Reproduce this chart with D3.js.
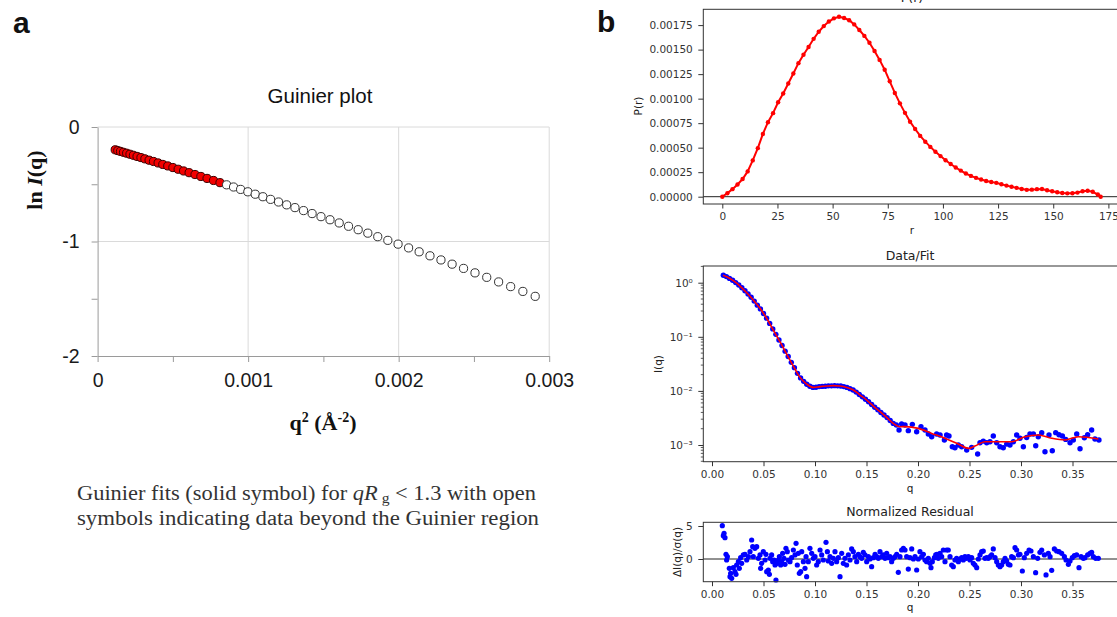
<!DOCTYPE html>
<html>
<head>
<meta charset="utf-8">
<script src="https://cdn.jsdelivr.net/npm/d3@7"></script>
<style>
  body { margin: 0; background: #fff; }
  svg { display: block; }
</style>
</head>
<body>
<svg id="chart" width="1117" height="617"></svg>
<script>
// ---- panel a: Guinier plot (q^2 vs ln I) ----
const guinierQ2 = [0.000117, 0.000134, 0.000152, 0.000172, 0.000193, 0.000215, 0.000238, 0.000262, 0.000288, 0.000314,
  0.000342, 0.000371, 0.000402, 0.000433, 0.000466, 0.000500, 0.000535, 0.000571, 0.000608, 0.000647,
  0.000686, 0.000727, 0.000770, 0.000813, 0.000857, 0.000903, 0.000950, 0.000998, 0.001047, 0.001098,
  0.001149, 0.001202, 0.001256, 0.001311, 0.001368, 0.001425, 0.001484, 0.001544, 0.001605, 0.001667,
  0.001731, 0.001795, 0.001861, 0.001928, 0.001996, 0.002066, 0.002136, 0.002208, 0.002281, 0.002355,
  0.002431, 0.002507, 0.002585, 0.002664, 0.002744, 0.002825, 0.002907];
const guinierLnI = [-0.199, -0.206, -0.213, -0.221, -0.229, -0.238, -0.247, -0.257, -0.267, -0.278,
  -0.290, -0.301, -0.314, -0.327, -0.340, -0.354, -0.369, -0.384, -0.399, -0.415,
  -0.432, -0.449, -0.467, -0.486, -0.505, -0.524, -0.545, -0.566, -0.587, -0.609,
  -0.632, -0.655, -0.680, -0.704, -0.730, -0.756, -0.783, -0.810, -0.838, -0.867,
  -0.897, -0.927, -0.958, -0.990, -1.023, -1.056, -1.090, -1.125, -1.161, -1.198,
  -1.235, -1.274, -1.313, -1.353, -1.394, -1.436, -1.479];
const guinierFitCount = 24; // first points = solid symbols (qRg < 1.3)
const guinierXTicks = [0, 0.0005, 0.001, 0.0015, 0.002, 0.0025, 0.003];
const guinierXLabels = { 0: '0', 0.001: '0.001', 0.002: '0.002', 0.003: '0.003' };
const guinierYTicks = [0, -0.5, -1, -1.5, -2];
const guinierYLabels = { 0: '0', '-1': '-1', '-2': '-2' };

// ---- panel b: P(r) ----
const prR = [0, 2.3, 4.6, 6.9, 9.2, 11.5, 13.8, 16.1, 18.4, 20.7, 23.0, 25.3, 27.6, 29.9, 32.2, 34.5, 36.8, 39.1, 41.4, 43.7,
  46.0, 48.3, 50.6, 52.9, 55.2, 57.5, 59.8, 62.1, 64.4, 66.7, 69.0, 71.3, 73.6, 75.9, 78.2, 80.5, 82.8, 85.1, 87.4, 89.7,
  92.0, 94.3, 96.6, 98.9, 101.2, 103.5, 105.8, 108.1, 110.4, 112.7, 115.0, 117.3, 119.6, 121.9, 124.2, 126.5, 128.8, 131.1,
  133.4, 135.7, 138.0, 140.3, 142.6, 144.9, 147.2, 149.5, 151.8, 154.1, 156.4, 158.7, 161.0, 163.3, 165.6, 167.9, 170.2, 171.5];
const prP = [0, 0.000035, 0.000077, 0.000125, 0.000180, 0.000258, 0.000370, 0.000495, 0.000640, 0.000760,
  0.000852, 0.000963, 0.001053, 0.001155, 0.001257, 0.001362, 0.001447, 0.001527, 0.001610, 0.001682,
  0.001740, 0.001786, 0.001819, 0.001835, 0.001822, 0.001800, 0.001757, 0.001700, 0.001640, 0.001570,
  0.001486, 0.001395, 0.001295, 0.001177, 0.001058, 0.000952, 0.000855, 0.000765, 0.000690, 0.000620,
  0.000561, 0.000508, 0.000459, 0.000414, 0.000372, 0.000333, 0.000298, 0.000266, 0.000236, 0.000212,
  0.000192, 0.000175, 0.000160, 0.000150, 0.000141, 0.000127, 0.000113, 0.000101, 0.000090, 0.000078,
  0.000070, 0.000072, 0.000077, 0.000078, 0.000066, 0.000055, 0.000045, 0.000038, 0.000034, 0.000035,
  0.000042, 0.000056, 0.000060, 0.000050, 0.000022, 0];
const prXTicks = [0, 25, 50, 75, 100, 125, 150, 175];
const prYTicks = [0, 0.00025, 0.0005, 0.00075, 0.001, 0.00125, 0.0015, 0.00175];

// ---- panel b: Data/Fit ----
const dataQ = [0.011, 0.014, 0.017, 0.020, 0.023, 0.026, 0.029, 0.032, 0.035, 0.038, 0.041, 0.044, 0.047, 0.050, 0.053,
  0.056, 0.059, 0.062, 0.065, 0.068, 0.071, 0.074, 0.077, 0.080, 0.083, 0.086, 0.089, 0.092, 0.095, 0.098,
  0.101, 0.104, 0.107, 0.110, 0.113, 0.116, 0.119, 0.122, 0.125, 0.128, 0.131, 0.134, 0.137, 0.140, 0.143,
  0.146, 0.149, 0.152, 0.155, 0.158, 0.161, 0.164, 0.167, 0.170, 0.173, 0.176, 0.179,
  0.1816, 0.1841, 0.1874, 0.1906, 0.1945, 0.1987, 0.2029, 0.2068, 0.2100, 0.2133, 0.2181, 0.2214, 0.2256, 0.2278,
  0.2301, 0.2333, 0.2359, 0.2392, 0.2424, 0.2473, 0.2521, 0.2579, 0.2602, 0.2634, 0.2667, 0.2699, 0.2731, 0.2764,
  0.2796, 0.2828, 0.2861, 0.2893, 0.2926, 0.2958, 0.2990, 0.3023, 0.3055, 0.3087, 0.3120, 0.3143, 0.3168, 0.3201,
  0.3233, 0.3272, 0.3304, 0.3337, 0.3369, 0.3402, 0.3434, 0.3476, 0.3508, 0.3541, 0.3573, 0.3615, 0.3647, 0.3686,
  0.3718, 0.3757];
const dataI = [1.374, 1.297, 1.202, 1.109, 1.005, 0.906, 0.807, 0.708, 0.617, 0.537, 0.457, 0.385, 0.328, 0.269, 0.221,
  0.177, 0.140, 0.111, 0.0875, 0.0692, 0.0543, 0.0432, 0.0337, 0.0269, 0.0211, 0.0174, 0.0150, 0.0133, 0.0122, 0.0116,
  0.0117, 0.0120, 0.0121, 0.0122, 0.0124, 0.0124, 0.0125, 0.0124, 0.0123, 0.0120, 0.0116, 0.0110, 0.0104, 0.00951, 0.00859,
  0.00776, 0.00700, 0.00631, 0.00560, 0.00499, 0.00447, 0.00400, 0.00358, 0.00321, 0.00283, 0.00251, 0.00234,
  0.00189, 0.00244, 0.00234, 0.00184, 0.00241, 0.00176, 0.00218, 0.00189, 0.00160, 0.00142, 0.00160, 0.00153, 0.00124, 0.00153,
  0.00147, 0.000931, 0.000891, 0.000998, 0.000931, 0.000807, 0.000904, 0.000681, 0.00110, 0.00118, 0.00110, 0.00115, 0.00147, 0.00110,
  0.000931, 0.000891, 0.00104, 0.000998, 0.00115, 0.00153, 0.00133, 0.000931, 0.00138, 0.00160, 0.00160, 0.000970, 0.00142, 0.00169,
  0.000752, 0.00153, 0.000785, 0.00169, 0.00155, 0.00147, 0.00127, 0.00110, 0.00124, 0.00160, 0.000855, 0.00136, 0.00155, 0.00189,
  0.00129, 0.00124];
const fitQ = [0.0107, 0.0143, 0.0207, 0.0272, 0.0337, 0.0401, 0.0466, 0.0531, 0.0595, 0.0660, 0.0725, 0.0790, 0.0854,
  0.0919, 0.0983, 0.1049, 0.1113, 0.1178, 0.1243, 0.1307, 0.1372, 0.1437, 0.1502, 0.1566, 0.1631, 0.1696, 0.1760,
  0.1825, 0.1880, 0.2003, 0.2133, 0.2262, 0.2391, 0.2489, 0.2553, 0.2650, 0.2780, 0.2910, 0.3039, 0.3168, 0.3298,
  0.3427, 0.3557, 0.3751];
const fitI = [1.38, 1.29, 1.09, 0.867, 0.653, 0.479, 0.336, 0.219, 0.133, 0.0811, 0.0480, 0.0288, 0.0178,
  0.0134, 0.0116, 0.0120, 0.0123, 0.0125, 0.0123, 0.0116, 0.0104, 0.00839, 0.00678, 0.00525, 0.00413, 0.00324, 0.00251,
  0.00218, 0.00219, 0.00203, 0.00164, 0.00133, 0.00104, 0.000867, 0.000957, 0.00115, 0.00115, 0.00115, 0.00142, 0.00153, 0.00133,
  0.00124, 0.00142, 0.00129];
const qTicks = [0, 0.05, 0.10, 0.15, 0.20, 0.25, 0.30, 0.35];
const logTicks = [1e-3, 1e-2, 1e-1, 1];
const logLabels = ['10\u207B\u00B3', '10\u207B\u00B2', '10\u207B\u00B9', '10\u2070'];

// ---- panel b: normalized residual ----
const resQ = [0.0100, 0.0117, 0.0110, 0.0126, 0.0136, 0.0149, 0.0142, 0.0168, 0.0181, 0.0191, 0.0175, 0.0207, 0.0223, 0.0239,
  0.0233, 0.0256, 0.0265, 0.0278, 0.0288, 0.0304, 0.0320, 0.0337, 0.0353, 0.0369, 0.0385, 0.0395, 0.0401, 0.0417, 0.0434,
  0.0450, 0.0466, 0.0472, 0.0482, 0.0498, 0.0515, 0.0524, 0.0531, 0.0547, 0.0557, 0.0563, 0.0579, 0.0589, 0.0602, 0.0612,
  0.0621, 0.0634, 0.0644, 0.0654, 0.0667, 0.0676, 0.0686, 0.0699, 0.0709, 0.0718, 0.0731, 0.0741, 0.0757, 0.0773, 0.0790,
  0.0806, 0.0816, 0.0828, 0.0838, 0.0848, 0.0861, 0.0871, 0.0887, 0.0903, 0.0913, 0.0919, 0.0935, 0.0951, 0.0968, 0.0984,
  0.1000, 0.1016, 0.1032, 0.1049, 0.1065, 0.1081, 0.1107, 0.1120, 0.1129, 0.1146, 0.1162, 0.1178, 0.1194, 0.1210, 0.1227,
  0.1243, 0.1259, 0.1275, 0.1291, 0.1307, 0.1324, 0.1340, 0.1356, 0.1372, 0.1388, 0.1405, 0.1421, 0.1437, 0.1453, 0.1469,
  0.1485, 0.1502, 0.1518, 0.1534, 0.1550, 0.1566, 0.1583, 0.1599, 0.1615, 0.1631, 0.1647, 0.1663, 0.1680, 0.1696, 0.1712,
  0.1728, 0.1744, 0.1761, 0.1777, 0.1793, 0.1809, 0.1825, 0.1841, 0.1858,
  0.1874, 0.1890, 0.1906, 0.1922, 0.1939, 0.1955, 0.1971, 0.1987, 0.2003, 0.2019, 0.2036, 0.2052, 0.2068, 0.2084, 0.2100,
  0.2117, 0.2126, 0.2139, 0.2159, 0.2172, 0.2184, 0.2197, 0.2214, 0.2230, 0.2246, 0.2262, 0.2278, 0.2294, 0.2311, 0.2327,
  0.2343, 0.2359, 0.2375, 0.2392, 0.2408, 0.2424, 0.2440, 0.2456, 0.2472, 0.2489, 0.2505, 0.2521, 0.2537, 0.2553, 0.2570,
  0.2586, 0.2602, 0.2618, 0.2634, 0.2650, 0.2667, 0.2683, 0.2699, 0.2715, 0.2731, 0.2748, 0.2764, 0.2780, 0.2796, 0.2812,
  0.2828, 0.2845, 0.2861, 0.2877, 0.2893, 0.2909, 0.2926, 0.2942, 0.2958, 0.2974, 0.2990, 0.3013, 0.3032, 0.3055, 0.3078,
  0.3097, 0.3120, 0.3142, 0.3162, 0.3184, 0.3201, 0.3227, 0.3243, 0.3265, 0.3282, 0.3298, 0.3324, 0.3346, 0.3369, 0.3395,
  0.3421, 0.3437, 0.3460, 0.3476, 0.3498, 0.3518, 0.3540, 0.3563, 0.3583, 0.3605, 0.3621, 0.3647, 0.3670, 0.3686, 0.3702,
  0.3725, 0.3751];
const resV = [5.05, 3.89, 3.54, 3.23, 0.71, 0.35, -0.15, -1.41, -2.17, -2.93, -2.68, -1.31, -1.92, -0.91,
  -2.32, -0.40, -1.41, 0.20, -0.66, 0.61, 0.71, -0.15, 0.35, 1.11, 2.88, 1.87, 0.35, 1.62, 1.87,
  0.10, 0.61, -1.41, -0.66, 1.11, -0.15, 0.71, -1.92, -1.67, -2.32, 0.10, 0.61, -0.40, -0.15, -0.91,
  -3.18, -0.66, -0.15, 0.35, -0.91, -0.40, 0.86, 0.10, -0.81, 1.62, 1.11, -0.15, -0.40, 0.20, 1.36,
  0.61, 2.37, -0.91, 0.86, -2.17, -1.92, 1.11, -0.40, -1.41, 0.35, -2.68, -0.40, 1.62, 0.86, 0.10,
  0.35, -0.91, -0.40, 1.36, 0.61, -0.15, 2.53, 1.11, -0.30, 0.35, -0.66, 0.10, 1.11, -0.40, 0.20,
  -2.68, 0.86, -0.66, 0.10, -0.91, 0.61, -0.15, 1.52, 1.11, 0.35, -0.40, 0.71, 0.35, 0.10, 1.01,
  0.61, -0.40, 0.35, 0.00, -1.16, 0.20, 0.71, 0.35, 0.10, 1.11, 0.35, 0.61, 0.10, 0.86, 0.20,
  0.35, -0.40, 0.10, 0.35, 0.71, -2.02, 0.35, 1.36, 1.62,
  1.36, 0.35, -1.52, 0.20, 1.52, 0.00, 0.35, -1.67, 0.00, 1.11, 0.35, 0.71, -0.15, -0.40, 0.10,
  -0.66, -1.31, -0.40, 0.20, 0.61, 0.71, 0.10, 0.86, 0.35, 1.36, -0.40, 1.36, 1.36, 0.35, -0.91,
  -1.16, -0.15, 0.10, -0.40, 0.00, 0.20, -0.15, 0.35, 0.10, 0.35, -0.15, 0.20, -0.66, -0.91, -1.31,
  0.00, 0.61, 1.11, 1.21, 0.10, 0.20, 0.10, 0.35, 0.61, 1.52, 0.20, -0.40, -0.91, -1.16, -0.91,
  -0.40, 0.10, -0.30, -0.81, -0.91, 0.35, 0.20, 1.72, 1.36, 0.61, 0.71, -1.82, 0.20, 0.86, 1.36,
  1.21, 0.35, -2.07, 0.10, 1.01, 1.36, 0.61, -2.42, 0.86, 0.35, -1.72, 1.52, 1.21, 1.11, 0.86,
  0.35, -0.15, -0.81, -0.30, 0.20, 0.51, 0.61, -1.31, 0.35, 0.10, 0.20, 0.61, 0.86, 1.01, 0.35,
  0.10, 0.10];
const resYTicks = [0, 5];

const svg = d3.select('#chart');
const ARIAL = 'Liberation Sans, Arial, sans-serif';
const TIMES = 'Liberation Serif, Times New Roman, serif';
const MPL = 'DejaVu Sans, sans-serif';

// ================= panel a =================
svg.append('text').attr('x', 13).attr('y', 33).attr('font-family', ARIAL).attr('font-weight', 'bold')
  .attr('font-size', 30).attr('fill', '#111').text('a');

const gx = d3.scaleLinear().domain([0, 0.003]).range([97.6, 549.2]);
const gy = d3.scaleLinear().domain([-2, 0]).range([356, 127]);
const ga = svg.append('g');

// gridlines
ga.append('g').selectAll('line').data([0.001, 0.002, 0.003]).join('line')
  .attr('x1', d => gx(d)).attr('x2', d => gx(d)).attr('y1', gy(0)).attr('y2', gy(-2))
  .attr('stroke', '#dadada').attr('stroke-width', 1);
ga.append('g').selectAll('line').data([0, -1]).join('line')
  .attr('x1', gx(0)).attr('x2', gx(0.003)).attr('y1', d => gy(d)).attr('y2', d => gy(d))
  .attr('stroke', '#dadada').attr('stroke-width', 1);

const axA = ga.append('g').attr('transform', `translate(0,${gy(-2)})`)
  .call(d3.axisBottom(gx).tickValues(guinierXTicks).tickSize(6).tickSizeOuter(0).tickPadding(11)
    .tickFormat(d => guinierXLabels[d] || ''));
const ayA = ga.append('g').attr('transform', `translate(${gx(0)},0)`)
  .call(d3.axisLeft(gy).tickValues(guinierYTicks).tickSize(6).tickSizeOuter(0).tickPadding(12)
    .tickFormat(d => guinierYLabels[d] || ''));
[axA, ayA].forEach(a => {
  a.attr('font-family', ARIAL).attr('font-size', 19.5);
  a.select('.domain').attr('stroke', '#9a9a9a');
  a.selectAll('.tick line').attr('stroke', '#9a9a9a');
  a.selectAll('.tick text').attr('fill', '#1a1a1a');
});

// points: open symbols beyond the Guinier region, solid red for the fit
const guinierPts = guinierQ2.map((q, i) => ({ q, v: guinierLnI[i], fit: i < guinierFitCount }));
ga.append('g').selectAll('circle').data(guinierPts).join('circle')
  .attr('cx', d => gx(d.q)).attr('cy', d => gy(d.v)).attr('r', 4.1)
  .attr('fill', d => d.fit ? '#f20000' : '#fff')
  .attr('stroke', d => d.fit ? '#3a0000' : '#333').attr('stroke-width', 1);

ga.append('text').attr('x', 320).attr('y', 103).attr('text-anchor', 'middle')
  .attr('font-family', ARIAL).attr('font-size', 20.5).attr('fill', '#111').text('Guinier plot');

const ylabA = ga.append('text').attr('transform', 'translate(42,180) rotate(-90)').attr('text-anchor', 'middle')
  .attr('font-family', TIMES).attr('font-weight', 'bold').attr('font-size', 22).attr('fill', '#111');
ylabA.append('tspan').text('ln ');
ylabA.append('tspan').attr('font-style', 'italic').text('I');
ylabA.append('tspan').text('(q)');

const xlabA = ga.append('text').attr('x', 323).attr('y', 430).attr('text-anchor', 'middle')
  .attr('font-family', TIMES).attr('font-weight', 'bold').attr('font-size', 22).attr('fill', '#111');
xlabA.append('tspan').text('q');
xlabA.append('tspan').attr('font-size', 14).attr('dy', -8).text('2');
xlabA.append('tspan').attr('dy', 8).text(' (Å');
xlabA.append('tspan').attr('font-size', 14).attr('dy', -8).text('-2');
xlabA.append('tspan').attr('dy', 8).text(')');

// caption
const cap1 = ga.append('text').attr('x', 77).attr('y', 500).attr('font-family', TIMES).attr('font-size', 20)
  .attr('fill', '#333').attr('textLength', 459).attr('lengthAdjust', 'spacingAndGlyphs');
cap1.append('tspan').text('Guinier fits (solid symbol) for ');
cap1.append('tspan').attr('font-style', 'italic').text('qR');
cap1.append('tspan').attr('font-size', 14).attr('dy', 3).text(' g');
cap1.append('tspan').attr('dy', -3).text(' < 1.3 with open');
ga.append('text').attr('x', 77).attr('y', 525).attr('font-family', TIMES).attr('font-size', 20)
  .attr('fill', '#333').attr('textLength', 462).attr('lengthAdjust', 'spacingAndGlyphs')
  .text('symbols indicating data beyond the Guinier region');

// ================= panel b =================
svg.append('text').attr('x', 597).attr('y', 32).attr('font-family', ARIAL).attr('font-weight', 'bold')
  .attr('font-size', 30).attr('fill', '#111').text('b');

const boxL = 703.3, boxR = 1122;
const TICK = 10.5;

function mplFrame(g, top, bottom) {
  g.append('rect').attr('x', boxL).attr('y', top).attr('width', boxR - boxL).attr('height', bottom - top)
    .attr('fill', 'none').attr('stroke', '#333').attr('stroke-width', 1);
}
function mplStyle(a) {
  a.attr('font-family', MPL).attr('font-size', TICK);
  a.select('.domain').remove();
  a.selectAll('.tick line').attr('stroke', '#333');
  a.selectAll('.tick text').attr('fill', '#333');
}
function mplText(g, x, y, txt, size, rot) {
  const t = g.append('text').attr('text-anchor', 'middle').attr('font-family', MPL)
    .attr('font-size', size).attr('fill', '#222').text(txt);
  if (rot) t.attr('transform', `translate(${x},${y}) rotate(-90)`);
  else t.attr('x', x).attr('y', y);
  return t;
}

// --- P(r) ---
const gp = svg.append('g');
const prX = d3.scaleLinear().domain([0, 175]).range([722.3, 1108.4]);
const prY = d3.scaleLinear().domain([0, 0.00175]).range([196.7, 25.1]);
const prTop = 9.3, prBottom = 204;
gp.append('line').attr('x1', boxL).attr('x2', boxR).attr('y1', prY(0)).attr('y2', prY(0))
  .attr('stroke', '#222').attr('stroke-width', 1);
const prLine = d3.line().x((d, i) => prX(prR[i])).y(d => prY(d));
gp.append('path').datum(prP).attr('d', prLine).attr('fill', 'none').attr('stroke', '#ff0000').attr('stroke-width', 2);
gp.append('g').selectAll('circle').data(prP).join('circle')
  .attr('cx', (d, i) => prX(prR[i])).attr('cy', d => prY(d)).attr('r', 2.2).attr('fill', '#ff0000');
mplFrame(gp, prTop, prBottom);
mplStyle(gp.append('g').attr('transform', `translate(0,${prBottom})`)
  .call(d3.axisBottom(prX).tickValues(prXTicks).tickSize(4.5).tickPadding(4).tickFormat(d3.format('d'))));
mplStyle(gp.append('g').attr('transform', `translate(${boxL},0)`)
  .call(d3.axisLeft(prY).tickValues(prYTicks).tickSize(5).tickPadding(5.5).tickFormat(d3.format('.5f'))));
mplText(gp, 912, 1.5, 'P(r)', 12.5);
mplText(gp, 912, 234, 'r', TICK);
mplText(gp, 642, 106, 'P(r)', TICK, true);

// --- Data/Fit ---
const gd = svg.append('g');
const dfX = d3.scaleLinear().domain([0, 0.35]).range([712, 1072.5]);
const dfY = d3.scaleLog().domain([1e-3, 1]).range([445, 282.7]);
const dfTop = 266, dfBottom = 461.7;
const dataPts = dataQ.map((q, i) => ({ q, v: dataI[i] }));
gd.append('g').selectAll('circle').data(dataPts).join('circle')
  .attr('cx', d => dfX(d.q)).attr('cy', d => dfY(d.v)).attr('r', 2.7).attr('fill', '#0000ff');
const fitLine = d3.line().curve(d3.curveMonotoneX).x((d, i) => dfX(fitQ[i])).y(d => dfY(d));
gd.append('path').datum(fitI).attr('d', fitLine).attr('fill', 'none').attr('stroke', '#ff0000').attr('stroke-width', 1.6);
mplFrame(gd, dfTop, dfBottom);
mplStyle(gd.append('g').attr('transform', `translate(0,${dfBottom})`)
  .call(d3.axisBottom(dfX).tickValues(qTicks).tickSize(4.5).tickPadding(4).tickFormat(d3.format('.2f'))));
mplStyle(gd.append('g').attr('transform', `translate(${boxL},0)`)
  .call(d3.axisLeft(dfY).tickValues(logTicks).tickSize(5).tickPadding(5.5).tickFormat((d, i) => logLabels[i])));
// minor log ticks
const minorLog = [];
[-4, -3, -2, -1, 0].forEach(k => d3.range(2, 10).forEach(m => minorLog.push(m * Math.pow(10, k))));
gd.append('g').selectAll('line').data(minorLog.filter(v => dfY(v) > dfTop && dfY(v) < dfBottom)).join('line')
  .attr('x1', boxL - 2.5).attr('x2', boxL).attr('y1', d => dfY(d)).attr('y2', d => dfY(d))
  .attr('stroke', '#333').attr('stroke-width', 0.8);
mplText(gd, 910, 259.5, 'Data/Fit', 12.5);
mplText(gd, 910, 492, 'q', TICK);
mplText(gd, 662, 364, 'I(q)', TICK, true);

// --- Normalized residual ---
const gr = svg.append('g');
const rsY = d3.scaleLinear().domain([0, 5]).range([559, 526]);
const rsTop = 522.3, rsBottom = 581.7;
gr.append('line').attr('x1', boxL).attr('x2', boxR).attr('y1', rsY(0)).attr('y2', rsY(0))
  .attr('stroke', '#222').attr('stroke-width', 1);
const resPts = resQ.map((q, i) => ({ q, v: resV[i] }));
gr.append('g').selectAll('circle').data(resPts).join('circle')
  .attr('cx', d => dfX(d.q)).attr('cy', d => rsY(d.v)).attr('r', 2.6).attr('fill', '#0000ff');
mplFrame(gr, rsTop, rsBottom);
mplStyle(gr.append('g').attr('transform', `translate(0,${rsBottom})`)
  .call(d3.axisBottom(dfX).tickValues(qTicks).tickSize(4.5).tickPadding(4).tickFormat(d3.format('.2f'))));
mplStyle(gr.append('g').attr('transform', `translate(${boxL},0)`)
  .call(d3.axisLeft(rsY).tickValues(resYTicks).tickSize(5).tickPadding(5.5).tickFormat(d3.format('d'))));
mplText(gr, 910, 516, 'Normalized Residual', 12.5);
mplText(gr, 910, 611, 'q', TICK);
mplText(gr, 681, 552, 'ΔI(q)/σ(q)', TICK, true);
</script>
</body>
</html>
